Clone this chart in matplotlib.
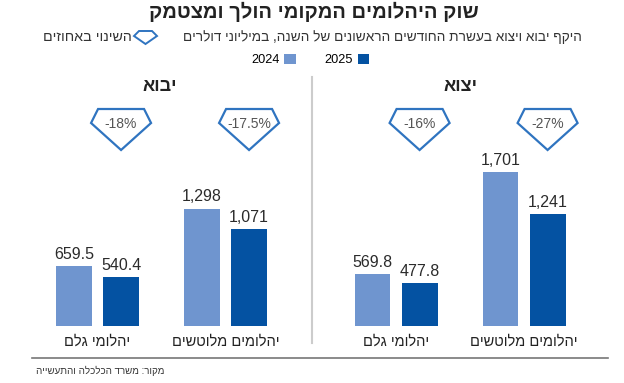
import matplotlib
matplotlib.use('Agg')
import matplotlib.pyplot as plt
from matplotlib.patches import Polygon

plt.rcParams['font.family'] = ['Liberation Sans', 'DejaVu Sans']

# data
categories = ['יהלומי גלם', 'יהלומים מלוטשים']
years = ['2024', '2025']
import_2024 = [659.5, 1298]
import_2025 = [540.4, 1071]
import_change = ['-18%', '-17.5%']
export_2024 = [569.8, 1701]
export_2025 = [477.8, 1241]
export_change = ['-16%', '-27%']
value_labels = {
    'import': [['659.5', '1,298'], ['540.4', '1,071']],
    'export': [['569.8', '1,701'], ['477.8', '1,241']],
}

light = '#6f95cf'
dark = '#0452a2'
dia_col = '#2f74c0'
W, H = 624, 383


def rtl(s):
    return s[::-1]


def fx(px):
    return px / W


def fy(py):
    return 1 - py / H


fig = plt.figure(figsize=(6.24, 3.83), dpi=100)

ax_l = fig.add_axes([fx(20), fy(326), fx(280), fy(145) - fy(326)])
ax_r = fig.add_axes([fx(320), fy(326), fx(280), fy(145) - fy(326)])

off = 0.184
bw = 0.28
x = [0, 1]

panels = [(ax_l, import_2024, import_2025, import_change, 'import', 'יבוא', -0.6055),
          (ax_r, export_2024, export_2025, export_change, 'export', 'יצוא', -0.594)]

handles = []
for ax, v24, v25, chg, key, title, x0 in panels:
    b1 = ax.bar([i - off for i in x], v24, bw, color=light)
    b2 = ax.bar([i + off for i in x], v25, bw, color=dark)
    handles = [b1, b2]
    ax.bar_label(b1, labels=value_labels[key][0], padding=3, fontsize=11.5, color='#2b2b2b')
    ax.bar_label(b2, labels=value_labels[key][1], padding=3, fontsize=11.5, color='#2b2b2b')
    ax.set_xlim(x0, x0 + 2.1875)
    ax.set_ylim(0, 2000)
    ax.set_xticks(x)
    ax.set_xticklabels([rtl(c) for c in categories], fontsize=10.5, color='#222222')
    ax.tick_params(axis='x', length=0, pad=6)
    ax.set_yticks([])
    for s in ax.spines.values():
        s.set_visible(False)
    ax.set_title(rtl(title), fontsize=13, fontweight='bold', pad=39, color='#222222')

    # diamonds with percentage change, above the 2025 bars
    fig.canvas.draw()
    for i, c in enumerate(chg):
        cx = ax.transData.transform((x[i] + off, 0))[0] / fig.dpi * 100
        pts = [(cx - 23, 109), (cx + 23, 109), (cx + 30, 123), (cx, 150), (cx - 30, 123)]
        fig.add_artist(Polygon([(fx(a), fy(b)) for a, b in pts], closed=True, fill=False,
                               edgecolor=dia_col, lw=1.6, transform=fig.transFigure))
        fig.text(fx(cx), fy(124), c, ha='center', va='center', fontsize=10, color='#555555')

# title and subtitle
fig.text(fx(314), fy(12), rtl('שוק היהלומים המקומי הולך ומצטמק'), ha='center', va='center',
         fontsize=14.5, fontweight='bold', color='#222222')
fig.text(fx(582), fy(37), rtl('היקף יבוא ויצוא בעשרת החודשים הראשונים של השנה, במיליוני דולרים'),
         ha='right', va='center', fontsize=9.8, color='#333333')
fig.text(fx(132), fy(37), rtl('השינוי באחוזים'), ha='right', va='center', fontsize=10.3, color='#333333')
icon = [(139, 31), (152, 31), (157, 36), (145.5, 44), (134, 36)]
fig.add_artist(Polygon([(fx(a), fy(b)) for a, b in icon], closed=True, fill=False,
                       edgecolor=dia_col, lw=1.4, transform=fig.transFigure))

fig.legend(handles, years, loc='center', bbox_to_anchor=(fx(310), fy(60)), ncol=2,
           frameon=False, markerfirst=False, handlelength=0.9, handleheight=0.9,
           handletextpad=0.4, columnspacing=2.2, fontsize=9.2)

# divider and bottom rule
fig.add_artist(plt.Line2D([fx(312), fx(312)], [fy(77), fy(343)], color='#cccccc', lw=1.5))
fig.add_artist(plt.Line2D([fx(32), fx(608)], [fy(358), fy(358)], color='#777777', lw=1.2))
fig.text(fx(36), fy(371), rtl('מקור: משרד הכלכלה והתעשייה'), ha='left', va='center',
         fontsize=7, color='#333333')

fig.savefig('out.png', dpi=100)
